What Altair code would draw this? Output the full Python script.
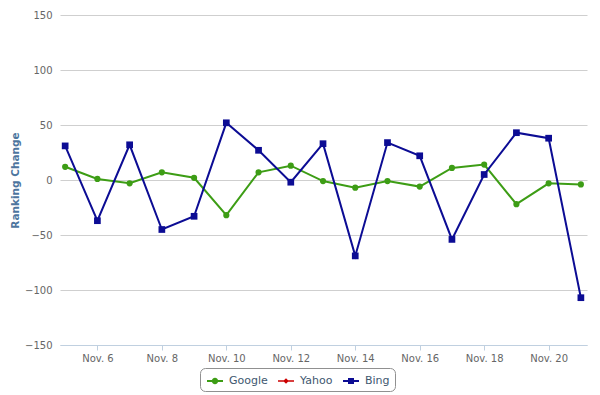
import altair as alt
import pandas as pd

# ---- data ----
days = list(range(5, 22))  # Nov 5 .. Nov 21
google = [12, 1, -3, 7, 2, -32, 7, 13, -1, -7, -1, -6, 11, 14, -22, -3, -4]
yahoo = []  # listed in legend, no values drawn
bing = [31, -37, 32, -45, -33, 52, 27, -2, 33, -69, 34, 22, -54, 5, 43, 38, -107]

series_names = ["Google", "Yahoo", "Bing"]
series_colors = ["#3d9d15", "#cc0000", "#0c0c94"]
tick_days = [6, 8, 10, 12, 14, 16, 18, 20]
y_ticks = [-150, -100, -50, 0, 50, 100, 150]

rows = []
for name, vals in [("Google", google), ("Yahoo", yahoo), ("Bing", bing)]:
    for d, v in zip(days, vals):
        rows.append({"day": d, "value": v, "series": name})
df = pd.DataFrame(rows)

FONT = "DejaVu Sans"

x = alt.X(
    "day:Q",
    scale=alt.Scale(domain=[days[0] - 0.16, days[-1] + 0.19], nice=False, zero=False),
    axis=alt.Axis(
        values=tick_days, labelExpr="'Nov. ' + datum.value", grid=False, title=None,
        domainColor="#C0D0E0", tickColor="#C0D0E0", tickSize=5,
        labelColor="#666666", labelFontSize=10, labelFont=FONT, labelPadding=3,
    ),
)
y = alt.Y(
    "value:Q",
    scale=alt.Scale(domain=[-150, 150], nice=False, zero=False),
    axis=alt.Axis(
        values=y_ticks, title="Ranking Change", grid=True, gridColor="#CFCFCF",
        domain=False, ticks=False, labelPadding=8, labelColor="#666666",
        labelFontSize=10, labelFont=FONT, titleFont=FONT, titleFontSize=10.5,
        titleFontWeight="bold", titleColor="#4d759e", titlePadding=4,
    ),
)

base = alt.Chart(df)
layers = []
for name, color, shape, size in [("Google", series_colors[0], "circle", 38),
                                 ("Bing", series_colors[2], "square", 45)]:
    f = base.transform_filter(alt.datum.series == name)
    layers.append(f.mark_line(color=color, strokeWidth=2).encode(x=x, y=y))
    layers.append(f.mark_point(color=color, filled=True, opacity=1, shape=shape,
                               size=size).encode(x=x, y=y))

legend_paths = [
    "M-1,-0.12H1V0.12H-1Z M0.4,0 A0.4,0.4 0 1,1 -0.4,0 A0.4,0.4 0 1,1 0.4,0Z",
    "M-1,-0.1H1V0.1H-1Z M0,-0.35L0.35,0L0,0.35L-0.35,0Z",
    "M-1,-0.12H1V0.12H-1Z M-0.375,-0.375H0.375V0.375H-0.375Z",
]
leg_def = dict(
    title=None, orient="none", legendX=140, legendY=353, direction="horizontal",
    symbolSize=256, symbolStrokeWidth=0, labelFont=FONT, labelFontSize=11,
    labelColor="#3E576F", labelOffset=6, columnPadding=8, padding=5,
    strokeColor="#909090", cornerRadius=5, fillColor="white", symbolOffset=2,
)
legend_layer = base.transform_filter("false").mark_point(filled=True, opacity=1).encode(
    x=x, y=y,
    fill=alt.Fill("series:N", scale=alt.Scale(domain=series_names, range=series_colors),
                  legend=alt.Legend(**leg_def)),
    shape=alt.Shape("series:N", scale=alt.Scale(domain=series_names, range=legend_paths),
                    legend=alt.Legend(**leg_def)),
)

chart = alt.layer(*layers, legend_layer).properties(
    width=527, height=330,
    padding={"left": 52, "top": 7, "right": 5, "bottom": 48},
    autosize=alt.AutoSizeParams(type="none"),
    background="white",
).configure_view(stroke=None)

chart.save("out.html", embed_options={"renderer": "svg", "actions": False})
